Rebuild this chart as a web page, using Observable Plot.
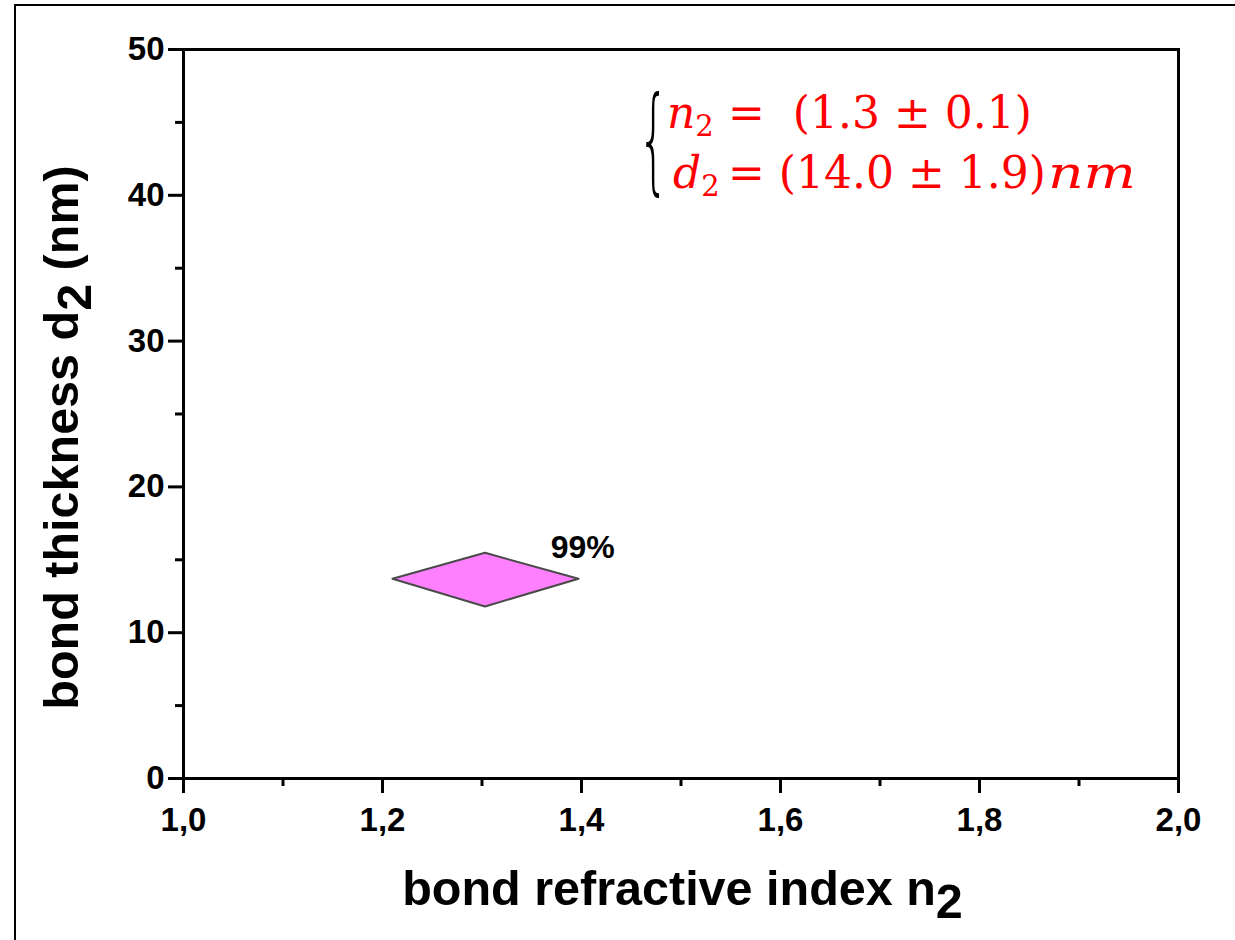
<!DOCTYPE html>
<html>
<head>
<meta charset="utf-8">
<script src="https://cdn.jsdelivr.net/npm/d3@7"></script>
<script src="https://cdn.jsdelivr.net/npm/@observablehq/plot@0.6"></script>
<style>
  html, body { margin: 0; padding: 0; background: #fff; overflow: hidden; }
  #wrap { position: relative; width: 1235px; height: 940px; overflow: hidden; }
  #wrap svg { position: absolute; left: 0; top: 0; }
</style>
</head>
<body>
<div id="wrap"></div>
<script>
// ---- data ----
const xMajorTicks = [1.0, 1.2, 1.4, 1.6, 1.8, 2.0];
const xMinorTicks = [1.1, 1.3, 1.5, 1.7, 1.9];
const yMajorTicks = [0, 10, 20, 30, 40, 50];
const yMinorTicks = [5, 15, 25, 35, 45];
// confidence region (diamond) vertices: refractive index n2, thickness d2 (nm)
const regionN = [1.210, 1.303, 1.397, 1.303, 1.210];
const regionD = [13.70, 15.48, 13.70, 11.80, 13.70];
// confidence label
const confText = ["99%"];
const confN = [1.369];
const confD = [15.8];
const xTitle = "bond refractive index n";
const yTitle = ["bond thickness d", " (nm)"];
const resultLines = [
  {v: "n", val: "=  (1.3 ± 0.1)", unit: ""},
  {v: "d", val: "= (14.0 ± 1.9)", unit: "nm"}
];

(function () {
const region = regionN.map((n, i) => ({n, d: regionD[i]}));
const conf = confText.map((t, i) => ({t, n: confN[i], d: confD[i]}));
const fmt = d => d.toFixed(1).replace(".", ",");

const plot = Plot.plot({
  width: 1235, height: 940,
  marginLeft: 183, marginRight: 57, marginTop: 49, marginBottom: 162,
  x: {domain: [1, 2]},
  y: {domain: [0, 50]},
  style: {fontFamily: "'Liberation Sans', Arial, sans-serif", fontWeight: "bold",
          background: "transparent", color: "#000"},
  marks: [
    Plot.line(region, {x: "n", y: "d", fill: "#ff80ff", stroke: "#4a4a4a", strokeWidth: 2, curve: "linear"}),
    Plot.text(conf, {x: "n", y: "d", text: "t", textAnchor: "start", lineAnchor: "middle",
                     fontSize: 32, fontWeight: "bold", fill: "#000"}),
    Plot.frame({stroke: "#000", strokeWidth: 3}),
    Plot.axisX(xMajorTicks, {tickSize: 15, tickPadding: 14, strokeWidth: 3, fontSize: 33,
                             tickFormat: fmt, label: null}),
    Plot.axisX(xMinorTicks, {tickSize: 8, strokeWidth: 3, tickFormat: () => "", label: null}),
    Plot.axisY(yMajorTicks, {tickSize: 15, tickPadding: 4, strokeWidth: 3, fontSize: 33,
                             tickFormat: d => String(d), label: null}),
    Plot.axisY(yMinorTicks, {tickSize: 8, strokeWidth: 3, tickFormat: () => "", label: null})
  ]
});
document.getElementById("wrap").appendChild(plot);

const svg = d3.select(plot);
const fx = plot.scale("x"), fy = plot.scale("y");
const pL = fx.apply(1), pR = fx.apply(2), pT = fy.apply(50), pB = fy.apply(0);

// outer picture border (left and top edges)
svg.append("line").attr("x1", 15).attr("x2", 15).attr("y1", 4).attr("y2", 940)
  .attr("stroke", "#000").attr("stroke-width", 2);
svg.append("line").attr("x1", 14).attr("x2", 1235).attr("y1", 5).attr("y2", 5)
  .attr("stroke", "#000").attr("stroke-width", 2);

// x axis title
const xt = svg.append("text")
  .attr("x", (pL + pR) / 2 + 2).attr("y", pB + 127)
  .attr("text-anchor", "middle")
  .attr("font-family", "'Liberation Sans', Arial, sans-serif")
  .attr("font-weight", "bold").attr("font-size", 48.5).attr("fill", "#000");
xt.append("tspan").text(xTitle);
xt.append("tspan").attr("dy", 13).text("2");

// y axis title
const yt = svg.append("text")
  .attr("transform", `translate(${pL - 105},${(pT + pB) / 2 + 24}) rotate(-90)`)
  .attr("text-anchor", "middle")
  .attr("font-family", "'Liberation Sans', Arial, sans-serif")
  .attr("font-weight", "bold").attr("font-size", 48.5).attr("fill", "#000");
yt.append("tspan").text(yTitle[0]);
yt.append("tspan").attr("dy", 13).text("2");
yt.append("tspan").attr("dy", -13).text(yTitle[1]);

// result annotation
const ag = svg.append("g").attr("font-family", "'DejaVu Serif', 'Liberation Serif', serif")
  .attr("fill", "#ff0000").attr("text-anchor", "start").attr("font-weight", "normal");
ag.append("text")
  .attr("transform", `translate(${pL + 455},179) scale(0.42,1)`)
  .attr("font-family", "'DejaVu Sans', sans-serif").attr("font-weight", 200)
  .attr("font-size", 116).attr("fill", "#000").text("{");
const baseX = [pL + 484, pL + 490];
const baseY = [128, 188];
resultLines.forEach((r, i) => {
  const t = ag.append("text").attr("x", baseX[i]).attr("y", baseY[i]).attr("font-size", 44);
  t.append("tspan").attr("font-style", "italic").text(r.v);
  t.append("tspan").attr("font-size", 29).attr("dy", 8).text("2");
  t.append("tspan").attr("dy", -8).attr("x", pL + 545).text(r.val);
  if (r.unit) t.append("tspan").attr("font-style", "italic").attr("dx", 2)
    .attr("textLength", 88).attr("lengthAdjust", "spacingAndGlyphs").text(r.unit);
});
})();
</script>
</body>
</html>
